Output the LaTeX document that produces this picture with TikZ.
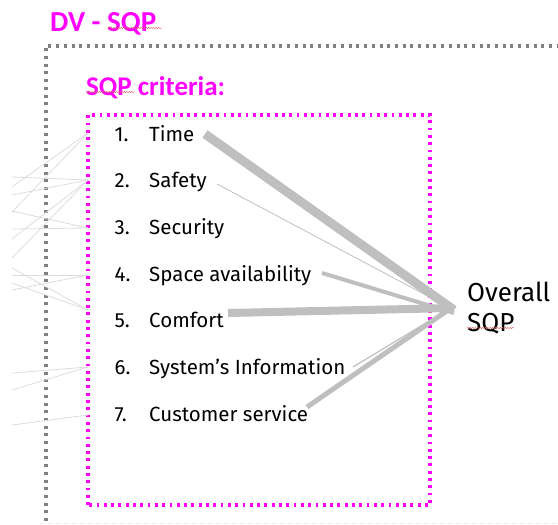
\documentclass[tikz,border=0pt]{standalone}
\usepackage{fontspec}
\setmainfont{Fira Sans}
\newfontfamily\headfont{Carlito}
\usetikzlibrary{decorations.pathmorphing}
\definecolor{mag}{HTML}{FF00FF}
\definecolor{frame}{HTML}{808080}
\definecolor{link}{HTML}{BFBFBF}
\definecolor{thin}{HTML}{DCDCDC}
\definecolor{squig}{HTML}{E06060}
\tikzset{
  heading/.style={text=mag, inner sep=0pt, anchor=base west},
  item/.style={font=\fontsize{20.5}{24}\selectfont, text=black, inner sep=0pt, anchor=base west},
  outer/.style={draw=frame, line width=3.2pt, dash pattern=on 3pt off 4.7pt},
  inner/.style={draw=mag, line width=3.2pt, dash pattern=on 2.8pt off 4.5pt},
  feed/.style={draw=thin, line width=0.8pt},
  weight/.style={draw=link},
  spell/.style={draw=squig, line width=0.4pt, decorate,
    decoration={snake, amplitude=0.7pt, segment length=2.5pt}}
}
\begin{document}
\begin{tikzpicture}[x=1pt,y=-1pt]
\useasboundingbox (0,0) rectangle (558,525);

% outer dotted frame (continues past the right edge)
\draw[outer] (46,521) -- (46,46) -- (562,46);
\draw[draw=black!6, line width=0.6pt, dash pattern=on 5pt off 3pt] (40,523.5) -- (558,523.5);

% headings
\node[heading, font=\headfont\bfseries\fontsize{29}{34}\selectfont] (title) at (50,31) {DV - SQP};
\node[heading, font=\headfont\bfseries\fontsize{27}{30}\selectfont] (crit) at (86,95) {SQP criteria:};

% criteria box
\draw[inner] (88,505) -- (88,115) -- (430,115) -- (430,505) -- cycle;

% criteria list
\foreach \i/\txt [count=\k] in {1/Time, 2/Safety, 3/Security, 4/Space availability,
    5/Comfort, 6/System’s Information, 7/Customer service} {
  \node[item] (n\i) at (114.5,{141+46.67*(\k-1)}) {\i.};
  \node[item] (t\i) at (149,{141+46.67*(\k-1)}) {\txt};
}

% overall result
\node[item, font=\fontsize{26}{30}\selectfont] (ov) at (467,301.5) {Overall};
\node[item, font=\fontsize{26}{30}\selectfont] (sqp) at (467,331) {SQP};

% spelling marks under SQP
\draw[spell] ([yshift=3pt]title.base west) ++(58,0) -- ++(54,0);
\draw[spell] ([yshift=3pt]crit.base west) -- ++(48,0);
\draw[spell] ([yshift=3pt]sqp.base west) -- ([yshift=3pt]sqp.base east);

% anchor points on the criteria box
\coordinate (p1) at (88,133);
\coordinate (p2) at (88,180);
\coordinate (p3) at (88,228);
\coordinate (p4) at (88,275);
\coordinate (p5) at (88,310);
\coordinate (p6) at (88,367);
\coordinate (p7) at (88,415);

% incoming feeds from the left
\foreach \y/\p in {187/p1, 212/p1, 177/p2, 195/p2, 239/p2, 258/p2, 211/p3, 229/p3,
    275/p4, 290/p4, 268/p5, 283/p5, 373/p6, 390/p6, 425/p7} {
  \coordinate (f\y) at (12,\y);
  \draw[feed] (f\y) -- (\p);
}

% weighted links to the overall score
\coordinate (hub) at (454,310);
\coordinate (s1) at (205,134);
\coordinate (s2) at (217,184);
\coordinate (s4) at (322,273);
\coordinate (s5) at (228,313);
\coordinate (s6) at (353,367);
\coordinate (s7) at (307,407);
\draw[weight, line width=9pt] (s1) -- (hub);
\draw[weight, line width=0.8pt] (s2) -- (hub);
\draw[weight, line width=4pt] (s4) -- ([yshift=-3pt]hub);
\draw[weight, line width=8pt] (s5) -- ([yshift=2pt]hub);
\draw[weight, line width=1.2pt] (s6) -- ([yshift=4pt]hub);
\draw[weight, line width=5pt] (s7) -- ([yshift=4pt]hub);
\end{tikzpicture}
\end{document}
